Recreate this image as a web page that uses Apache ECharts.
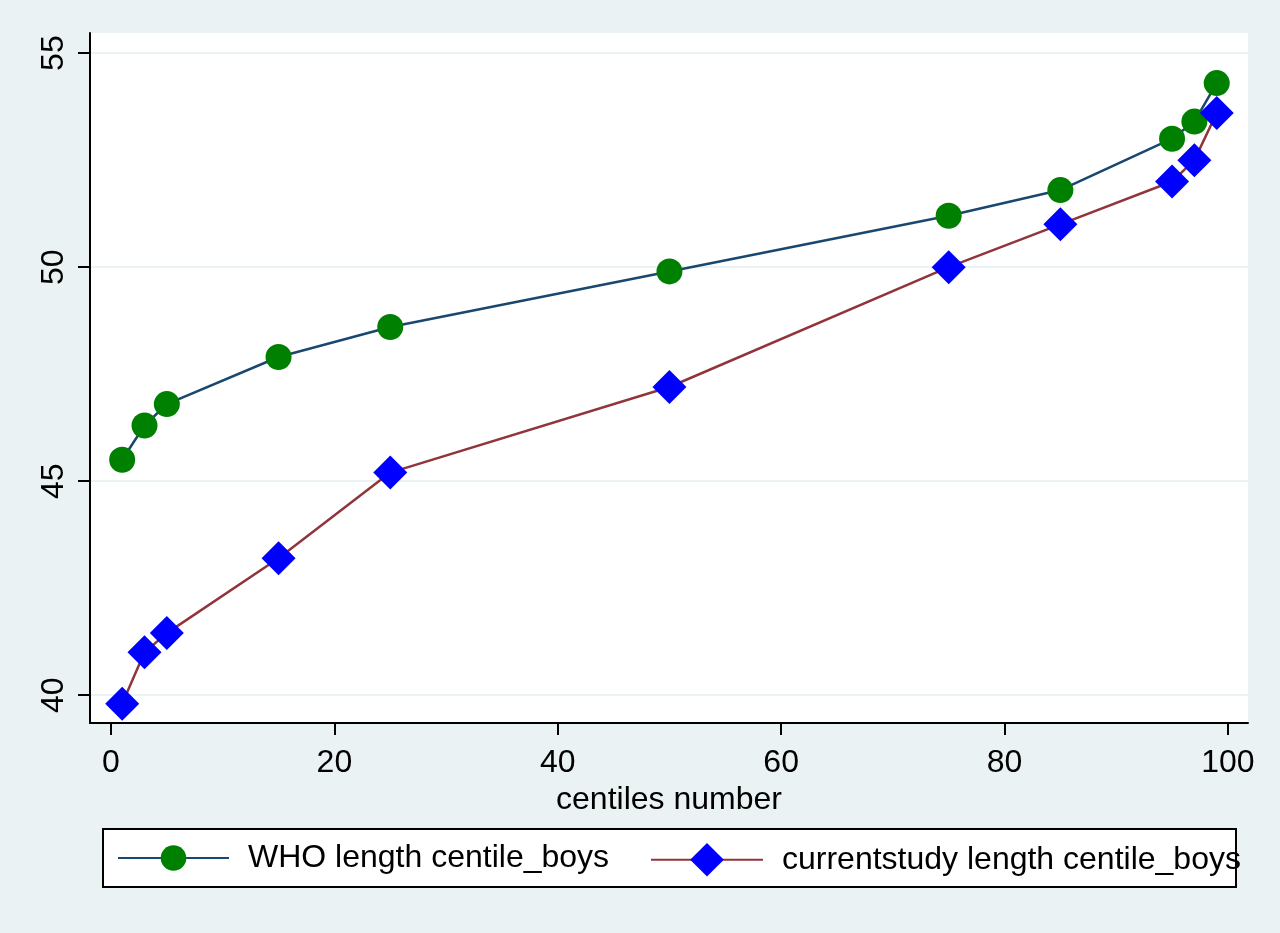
<!DOCTYPE html>
<html>
<head>
<meta charset="utf-8">
<script src="https://cdn.jsdelivr.net/npm/echarts@6/dist/echarts.min.js"></script>
<style>
html,body{margin:0;padding:0;background:#EAF2F3;}
#chart{width:1280px;height:933px;}
</style>
</head>
<body>
<div id="chart"></div>
<script>
var centiles = [1, 3, 5, 15, 25, 50, 75, 85, 95, 97, 99];
var whoValues = [45.5, 46.3, 46.8, 47.9, 48.6, 49.9, 51.2, 51.8, 53.0, 53.4, 54.3];
var studyValues = [39.8, 41.0, 41.45, 43.2, 45.2, 47.2, 50.0, 51.0, 52.0, 52.5, 53.6];
var xTicks = [0, 20, 40, 60, 80, 100];
var yTicks = [40, 45, 50, 55];
var seriesNames = ['WHO length centile_boys', 'currentstudy length centile_boys'];

function pairs(xs, ys) { return xs.map(function (x, i) { return [x, ys[i]]; }); }

var font = 'Liberation Sans, Arial, sans-serif';
var fs = 32;
var chart = echarts.init(document.getElementById('chart'));
chart.setOption({
  backgroundColor: '#EAF2F3',
  animation: false,
  textStyle: { fontFamily: font, color: '#000' },
  grid: {
    left: 90, right: 32, top: 33, bottom: 210,
    show: true, backgroundColor: '#ffffff', borderWidth: 0
  },
  xAxis: {
    type: 'value', min: -1.88, max: 101.8,
    name: 'centiles number', nameLocation: 'middle', nameGap: 51,
    nameTextStyle: { fontSize: fs, color: '#000', fontFamily: font },
    axisLine: { show: true, onZero: false, lineStyle: { color: '#000', width: 2 } },
    axisTick: { show: true, length: 12, customValues: xTicks, lineStyle: { color: '#000', width: 2 } },
    axisLabel: { customValues: xTicks, fontSize: fs, color: '#000', margin: 24, fontFamily: font },
    splitLine: { show: false }
  },
  yAxis: {
    type: 'value', min: 39.35, max: 55.47,
    axisLine: { show: true, onZero: false, lineStyle: { color: '#000', width: 2 } },
    axisTick: { show: true, length: 12, customValues: yTicks, lineStyle: { color: '#000', width: 2 } },
    axisLabel: { customValues: yTicks, fontSize: fs, color: '#000', margin: 20, rotate: 90, fontFamily: font },
    splitLine: { show: true, lineStyle: { color: '#EAF2F3', width: 2 } }
  },
  graphic: [{
    type: 'rect', z: 1,
    shape: { x: 103, y: 829, width: 1133, height: 58 },
    style: { fill: '#ffffff', stroke: '#000', lineWidth: 2 }
  }],
  legend: [
    {
      z: 10, left: 117, top: 842,
      itemWidth: 111, itemHeight: 32, padding: 0,
      textStyle: { fontSize: fs, color: '#000', fontFamily: font, padding: [0, 0, 0, 14] },
      data: [seriesNames[0]]
    },
    {
      z: 10, left: 650, top: 843,
      itemWidth: 112, itemHeight: 42, padding: 0,
      textStyle: { fontSize: fs, color: '#000', fontFamily: font, padding: [0, 0, 0, 14] },
      data: [seriesNames[1]]
    }
  ],
  series: [
    {
      name: seriesNames[0], type: 'line', data: pairs(centiles, whoValues),
      symbol: 'circle', symbolSize: 26,
      lineStyle: { color: '#1a476f', width: 2.5 },
      itemStyle: { color: '#008000' }
    },
    {
      name: seriesNames[1], type: 'line', data: pairs(centiles, studyValues),
      symbol: 'diamond', symbolSize: 34,
      lineStyle: { color: '#90353b', width: 2.5 },
      itemStyle: { color: '#0000ff' }
    }
  ]
});
</script>
</body>
</html>
